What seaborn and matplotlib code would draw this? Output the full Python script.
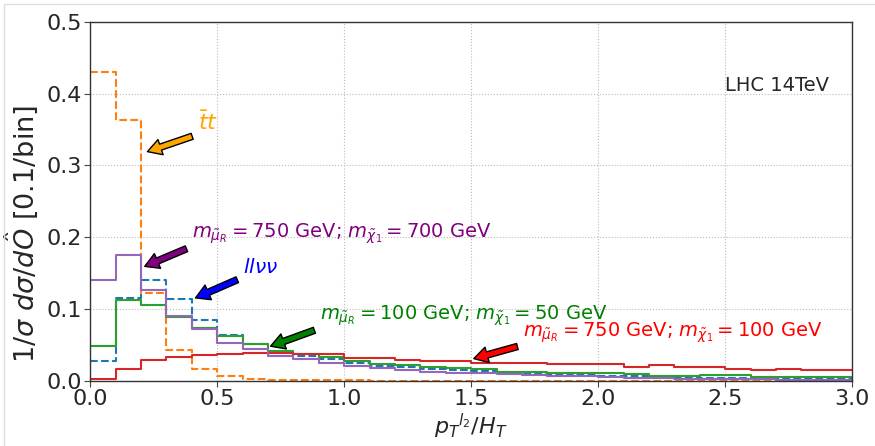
import numpy as np
import pandas as pd
import matplotlib
matplotlib.use("Agg")
import matplotlib.pyplot as plt
import seaborn as sns
from matplotlib.patches import Rectangle

# ---- data (normalised distributions, 0.1-wide bins from 0 to 3.0) ----
bin_edges = [round(0.1 * i, 1) for i in range(31)]

llvv = [0.027, 0.116, 0.140, 0.114, 0.085, 0.064, 0.0515, 0.040, 0.035, 0.030,
        0.0246, 0.021, 0.019, 0.0167, 0.0153, 0.0144, 0.012, 0.0107, 0.0093, 0.0079,
        0.0074, 0.0065, 0.0056, 0.005, 0.0046, 0.004, 0.0037, 0.0032, 0.003, 0.0028]

ttbar = [0.430, 0.364, 0.123, 0.043, 0.0167, 0.0074, 0.0024, 0.0014, 0.001, 0.0008,
         0.0006, 0.0005, 0.0005, 0.0004, 0.0004, 0.0003, 0.0003, 0.0003, 0.0002, 0.0002,
         0.0002, 0.0002, 0.0002, 0.0001, 0.0001, 0.0001, 0.0001, 0.0001, 0.0001, 0.0001]

sig_100_50 = [0.049, 0.113, 0.105, 0.0896, 0.0743, 0.0627, 0.051, 0.042, 0.037, 0.033,
              0.027, 0.0232, 0.022, 0.020, 0.0176, 0.016, 0.013, 0.0125, 0.0116, 0.0116,
              0.0107, 0.0093, 0.0074, 0.0065, 0.0084, 0.008, 0.006, 0.006, 0.006, 0.0056]

sig_750_100 = [0.0033, 0.016, 0.029, 0.033, 0.036, 0.0376, 0.039, 0.039, 0.038, 0.037,
               0.0325, 0.0316, 0.029, 0.0274, 0.027, 0.0246, 0.0255, 0.0246, 0.024, 0.0237,
               0.023, 0.020, 0.0218, 0.020, 0.020, 0.0172, 0.0149, 0.0172, 0.0158, 0.0158]

sig_750_700 = [0.1407, 0.176, 0.1267, 0.0905, 0.0729, 0.0534, 0.044, 0.035, 0.031, 0.0255,
               0.021, 0.018, 0.0153, 0.0125, 0.0107, 0.0116, 0.0098, 0.0084, 0.0074, 0.0065,
               0.0056, 0.0046, 0.0037, 0.0032, 0.0028, 0.0023, 0.002, 0.0015, 0.001, 0.0008]

series_names = ["llvv", "ttbar", "m100_50", "m750_100", "m750_700"]
series_values = [llvv, ttbar, sig_100_50, sig_750_100, sig_750_700]
series_colors = ["tab:blue", "tab:orange", "tab:green", "tab:red", "tab:purple"]
series_styles = ["--", "--", "-", "-", "-"]

x_ticks = [0.0, 0.5, 1.0, 1.5, 2.0, 2.5, 3.0]
y_ticks = [0.0, 0.1, 0.2, 0.3, 0.4, 0.5]

# ---- figure ----
sns.set_style("white")
plt.rcParams["font.family"] = ["DejaVu Sans"]
plt.rcParams["mathtext.fontset"] = "dejavusans"

fig = plt.figure(figsize=(8.75, 4.46), dpi=100)
ax = fig.add_axes([0.103, 0.146, 0.871, 0.805])

for name, vals, col, ls in zip(series_names, series_values, series_colors, series_styles):
    df = pd.DataFrame({"x": bin_edges, "y": list(vals) + [vals[-1]]})
    sns.lineplot(data=df, x="x", y="y", ax=ax, color=col, linestyle=ls,
                 drawstyle="steps-post", linewidth=1.5, estimator=None, sort=False)

ax.set_xlim(0, 3.0)
ax.set_ylim(0, 0.5)
ax.set_xticks(x_ticks)
ax.set_yticks(y_ticks)
ax.tick_params(axis="both", labelsize=16, length=4, color="#444444", direction="out",
               bottom=True, left=True, pad=2)
ax.grid(True, linestyle=":", color="#bbbbbb", linewidth=0.8)
for sp in ax.spines.values():
    sp.set_visible(True)
    sp.set_color("#333333")
    sp.set_linewidth(1.0)

ax.set_xlabel(r"$p_T{}^{l_2}/H_T$", fontsize=16, labelpad=2)
ax.set_ylabel(r"$1/\sigma\ d\sigma/d\hat{O}$ [0.1/bin]", fontsize=19.5)
ax.yaxis.set_label_coords(-0.066, 0.41)

ax.text(2.50, 0.411, "LHC 14TeV", fontsize=14, ha="left", va="center")

def arrow(c):
    return dict(facecolor=c, edgecolor="black", shrink=0.05, width=4.5,
                headwidth=11.5, headlength=10, linewidth=1.0)

ax.annotate(r"$\bar{t}t$", xy=(0.215, 0.318), xytext=(0.425, 0.349),
            color="orange", fontsize=16, arrowprops=arrow("orange"))
ax.annotate(r"$m_{\tilde{\mu}_R} = 750$ GeV; $m_{\tilde{\chi}_1} = 700$ GeV",
            xy=(0.205, 0.158), xytext=(0.402, 0.199),
            color="purple", fontsize=14, arrowprops=arrow("purple"))
ax.annotate(r"$ll\nu\nu$", xy=(0.405, 0.114), xytext=(0.602, 0.150),
            color="blue", fontsize=14.5, arrowprops=arrow("blue"))
ax.annotate(r"$m_{\tilde{\mu}_R} = 100$ GeV; $m_{\tilde{\chi}_1} = 50$ GeV",
            xy=(0.70, 0.047), xytext=(0.906, 0.085),
            color="green", fontsize=14, arrowprops=arrow("green"))
ax.annotate(r"$m_{\tilde{\mu}_R} = 750$ GeV; $m_{\tilde{\chi}_1} = 100$ GeV",
            xy=(1.50, 0.030), xytext=(1.705, 0.0617),
            color="red", fontsize=14, arrowprops=arrow("red"))

# light frame around the figure as in the reference
fig.add_artist(Rectangle((4 / 875, -0.1), 1.2, 1.1 - 4 / 446,
                         transform=fig.transFigure, fill=False,
                         edgecolor="#dddddd", linewidth=1.0))

fig.savefig("out.png", dpi=100)
